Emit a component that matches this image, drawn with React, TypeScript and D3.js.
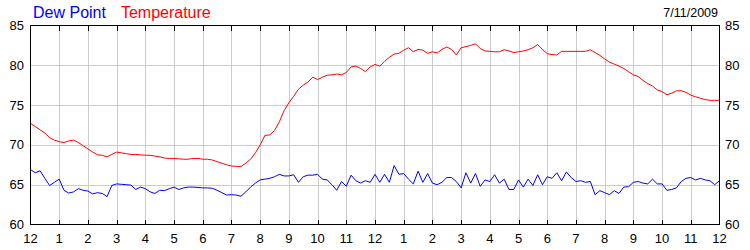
import React from "react";
import * as d3 from "d3";

// 10-minute readings from 12 AM to 12 AM (145 samples)
const temperature: number[] = [
  72.7, 72.3, 71.9, 71.5, 70.9, 70.6, 70.4, 70.3, 70.5, 70.6, 70.3, 69.9,
  69.5, 69.1, 68.75, 68.7, 68.5, 68.8, 69.1, 69.0, 68.9, 68.8, 68.8, 68.75,
  68.7, 68.7, 68.6, 68.5, 68.35, 68.3, 68.3, 68.25, 68.2, 68.2, 68.3, 68.3,
  68.2, 68.2, 68.1, 67.9, 67.7, 67.5, 67.35, 67.3, 67.3, 67.7, 68.2, 69.0,
  70.0, 71.2, 71.25, 71.8, 72.9, 74.3, 75.3, 76.1, 77.0, 77.5, 77.9, 78.5,
  78.2, 78.5, 78.75, 78.8, 78.9, 78.8, 79.1, 79.8, 79.9, 79.6, 79.2, 79.8,
  80.1, 79.9, 80.5, 81.0, 81.4, 81.5, 81.9, 82.2, 81.7, 82.0, 81.9, 81.5,
  81.7, 81.55, 82.0, 82.3, 82.0, 81.3, 82.2, 82.35, 82.5, 82.7, 82.1, 81.8,
  81.75, 81.7, 81.7, 81.95, 81.8, 81.6, 81.7, 81.8, 81.95, 82.2, 82.6, 82.0,
  81.45, 81.35, 81.3, 81.75, 81.75, 81.75, 81.75, 81.75, 81.75, 81.95, 81.6, 81.25,
  80.8, 80.4, 80.15, 79.9, 79.6, 79.2, 78.8, 78.6, 78.1, 77.7, 77.4, 76.9,
  76.7, 76.3, 76.5, 76.8, 76.8, 76.6, 76.25, 76.05, 75.85, 75.7, 75.6, 75.6,
  75.6,
];

const dewPoint: number[] = [
  66.9, 66.5, 66.75, 65.8, 64.9, 65.3, 65.7, 64.3, 63.95, 64.1, 64.5, 64.3,
  64.2, 63.85, 64.0, 63.9, 63.5, 64.9, 65.1, 65.05, 65.0, 64.95, 64.4, 64.7,
  64.5, 64.1, 63.9, 64.3, 64.25, 64.5, 64.7, 64.4, 64.6, 64.7, 64.7, 64.65,
  64.6, 64.6, 64.55, 64.3, 64.0, 63.7, 63.75, 63.7, 63.55, 64.1, 64.7, 65.2,
  65.6, 65.7, 65.8, 66.0, 66.3, 66.1, 66.1, 66.25, 65.3, 66.0, 66.2, 66.2,
  66.3, 65.7, 65.6, 65.0, 64.3, 65.4, 64.8, 66.2, 65.5, 65.2, 65.5, 65.3,
  66.3, 65.3, 66.3, 65.3, 67.4, 66.3, 66.4, 65.7, 65.1, 66.7, 65.3, 66.4,
  65.2, 65.0, 65.3, 65.9, 65.9, 65.4, 64.6, 66.5, 65.2, 66.4, 64.8, 65.6,
  65.4, 66.25, 65.2, 65.7, 64.4, 64.4, 65.6, 64.7, 65.7, 64.9, 66.25, 65.0,
  66.0, 65.8, 66.5, 65.5, 66.6, 65.9, 65.4, 65.5, 65.3, 65.4, 63.75, 64.25,
  64.0, 63.75, 64.25, 63.9, 64.7, 64.75, 65.3, 65.4, 65.2, 65.1, 65.7, 65.1,
  65.1, 64.3, 64.4, 64.6, 65.4, 65.8, 65.9, 65.6, 65.8, 65.6, 65.5, 65.0,
  65.5,
];

const minutesPerSample = 10;
const hourLabels: string[] = [
  "12", "1", "2", "3", "4", "5", "6", "7", "8", "9", "10", "11",
  "12", "1", "2", "3", "4", "5", "6", "7", "8", "9", "10", "11", "12",
];
const yTicks: number[] = [60, 65, 70, 75, 80, 85];
const legendItems = [
  { label: "Dew Point", color: "#0000ff" },
  { label: "Temperature", color: "#ff0000" },
];
const dateLabel = "7/11/2009";

const W = 750;
const H = 250;
const left = 30.5;
const right = 719.5;
const top = 25.5;
const bottom = 224.5;
const FONT = "'Liberation Sans', Arial, sans-serif";

export default function App() {
  const x = d3.scaleLinear().domain([0, 24]).range([left, right]);
  const y = d3.scaleLinear().domain([60, 85]).range([bottom, top]);

  const line = d3
    .line<number>()
    .x((_, i) => x((i * minutesPerSample) / 60))
    .y((d) => y(d));

  const hours = hourLabels.map((_, i) => i);

  return (
    <svg
      width={W}
      height={H}
      style={{ position: "absolute", left: 0, top: 0, background: "#fff" }}
      fontFamily={FONT}
    >
      <rect x={0} y={0} width={W} height={H} fill="#fff" />
      {/* grid */}
      <g stroke="#cccccc" strokeWidth={1} shapeRendering="crispEdges">
        {hours.slice(1, -1).map((h) => (
          <line key={"v" + h} x1={Math.round(x(h)) + 0.5} x2={Math.round(x(h)) + 0.5} y1={top} y2={bottom} />
        ))}
        {yTicks.slice(1, -1).map((v) => (
          <line key={"h" + v} x1={left} x2={right} y1={Math.round(y(v)) + 0.5} y2={Math.round(y(v)) + 0.5} />
        ))}
      </g>
      {/* series */}
      <path d={line(dewPoint) || ""} fill="none" stroke="#0000ff" strokeWidth={1} />
      <path d={line(temperature) || ""} fill="none" stroke="#ff0000" strokeWidth={1} />
      {/* frame */}
      <rect x={left} y={top} width={right - left} height={bottom - top} fill="none" stroke="#000" strokeWidth={1} shapeRendering="crispEdges" />
      {/* tick marks */}
      <g stroke="#000" strokeWidth={1} shapeRendering="crispEdges">
        {hours.slice(1, -1).map((h) => (
          <g key={"t" + h}>
            <line x1={Math.round(x(h)) + 0.5} x2={Math.round(x(h)) + 0.5} y1={top} y2={top + 5} />
            <line x1={Math.round(x(h)) + 0.5} x2={Math.round(x(h)) + 0.5} y1={bottom - 5} y2={bottom} />
          </g>
        ))}
      </g>
      {/* x labels */}
      <g fontSize={13} fill="#000" textAnchor="middle">
        {hourLabels.map((t, i) => (
          <text key={"xl" + i} x={x(i)} y={243}>
            {t}
          </text>
        ))}
      </g>
      {/* y labels */}
      <g fontSize={13} fill="#000">
        {yTicks.map((v) => (
          <text key={"yl" + v} x={24} y={y(v) + 4.5} textAnchor="end">
            {v}
          </text>
        ))}
        {yTicks.map((v) => (
          <text key={"yr" + v} x={725} y={y(v) + 4.5} textAnchor="start">
            {v}
          </text>
        ))}
      </g>
      {/* legend */}
      <text x={33} y={18} fontSize={16}>
        {legendItems.map((it, i) => (
          <tspan key={it.label} fill={it.color} dx={i === 0 ? 0 : 15}>
            {it.label}
          </tspan>
        ))}
      </text>
      <text x={718} y={17} fontSize={12.5} textAnchor="end" fill="#000">
        {dateLabel}
      </text>
    </svg>
  );
}
